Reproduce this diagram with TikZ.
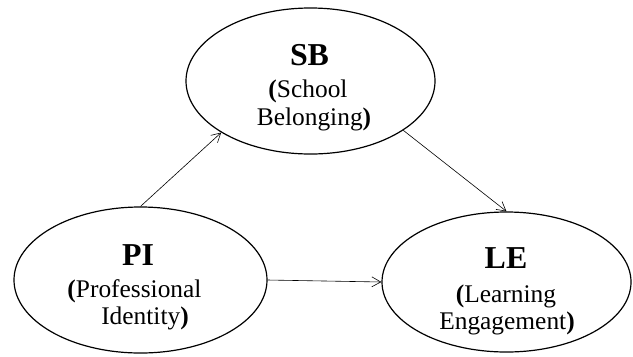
\documentclass[tikz,border=0pt]{standalone}
\usepackage{fontspec}
\setmainfont{Liberation Serif}
\usetikzlibrary{shapes.geometric,arrows.meta}
\tikzset{
  oval/.style={draw=black, line width=1.2bp, ellipse, inner sep=0pt},
  ttl/.style={anchor=base, inner sep=0pt, font=\fontsize{32}{32}\selectfont\bfseries},
  sub/.style={anchor=base, inner sep=0pt, font=\fontsize{25.5}{25.5}\selectfont},
  conn/.style={draw=black, line width=0.6bp, -{Straight Barb[length=9bp,width=10bp,line width=0.6bp]}}
}
\begin{document}
\begin{tikzpicture}[x=1bp,y=-1bp]
\useasboundingbox[fill=white] (0,0) rectangle (633,356);
\node[oval, minimum width=249bp, minimum height=146bp] (SB) at (310.5,81) {};
\node[oval, minimum width=253bp, minimum height=146bp] (PI) at (140.5,280) {};
\node[oval, minimum width=249bp, minimum height=140bp] (LE) at (506.5,282) {};
\node[ttl] (sbt) at (309.5,65) {SB};
\node[sub] (sb1) at (308,97) {\textbf{(}School};
\node[sub] (sb2) at (314,125) {Belonging\textbf{)}};
\node[ttl] (pit) at (138,265) {PI};
\node[sub] (pi1) at (134.5,297) {\textbf{(}Professional};
\node[sub] (pi2) at (145,324) {Identity\textbf{)}};
\node[ttl] (let) at (506,268) {LE};
\node[sub] (le1) at (506,302) {\textbf{(}Learning};
\node[sub] (le2) at (507,329) {Engagement\textbf{)}};
\draw[conn] (PI.north) -- (SB.210);
\draw[conn] (SB.-28) -- (LE.north);
\draw[conn] (PI.east) -- (LE.west);
\end{tikzpicture}
\end{document}
